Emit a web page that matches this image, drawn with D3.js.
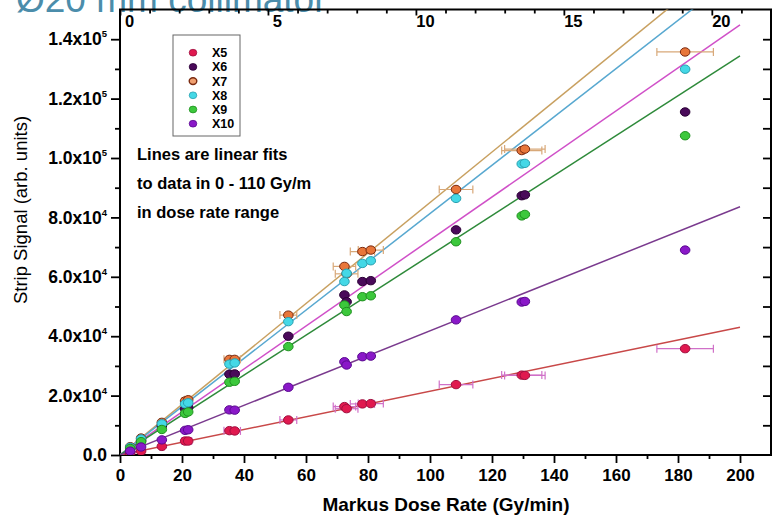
<!DOCTYPE html>
<html>
<head>
<meta charset="utf-8">
<script src="https://cdn.jsdelivr.net/npm/d3@7"></script>
<style>
  body { margin: 0; background: #fff; }
  svg text { font-family: "Liberation Sans", Arial, sans-serif; }
</style>
</head>
<body>
<div id="chart"></div>
<script>
// dose rates (Gy/min), shared by all strips
var doseRate = [3.3, 6.8, 13.5, 21, 22, 35.3, 37, 54.3, 72.4, 73.1, 78.2, 80.9, 108.4, 129.6, 130.6, 182.3];

var seriesNames = ["X5", "X6", "X7", "X8", "X9", "X10"];
var x5  = [700, 1300, 2900, 4700, 4700, 8200, 8100, 11800, 16300, 15600, 17200, 17300, 23700, 26900, 26800, 35800];
var x6  = [2400, 4800, 9800, 15500, 16000, 27200, 27300, 40000, 53900, 51600, 58400, 58700, 75800, 87300, 87600, 115500];
var x7  = [2800, 5700, 11000, 18200, 18600, 32200, 32200, 47100, 63500, 61000, 68500, 69000, 89400, 102500, 103000, 135700];
var x8  = [2600, 5400, 10500, 17200, 17600, 30600, 31000, 44900, 58400, 61200, 64500, 65400, 86400, 98000, 98200, 129900];
var x9  = [2200, 4500, 8600, 14000, 14500, 24500, 24800, 36500, 50500, 48300, 53300, 53600, 71800, 80500, 81000, 107500];
var x10 = [1300, 2700, 5100, 8300, 8500, 15200, 15100, 22800, 31400, 30300, 33100, 33300, 45500, 51500, 51700, 69000];

// slopes of the linear fits (signal per Gy/min), drawn from 0 to 200
var fitSlopes = [215, 724, 850, 813, 672, 418];
var fitRange = [0, 200];

var xTickValues = [0, 20, 40, 60, 80, 100, 120, 140, 160, 180, 200];
var topTickValues = [0, 5, 10, 15, 20];
var yTickValues = [0, 20000, 40000, 60000, 80000, 100000, 120000, 140000];
var yTickMantissa = ["0.0", "2.0", "4.0", "6.0", "8.0", "1.0", "1.2", "1.4"];
var yTickExp = ["", "4", "4", "4", "4", "5", "5", "5"];

var noteLines = ["Lines are linear fits", "to data in 0 - 110 Gy/m", "in dose rate range"];

var allValues = [x5, x6, x7, x8, x9, x10];
var fills   = ["#e0194f", "#4a0a5a", "#e8763a", "#44d8e6", "#3cc83c", "#8a18c8"];
var strokes = ["#a01040", "#2a0035", "#7a2a10", "#2aa0b0", "#209020", "#5a0a90"];
var lineColors = ["#c84848", "#d050c8", "#c8a060", "#58a8d0", "#2e8a3a", "#7a3a8e"];
var errColors = {"X5": "#d070c8", "X7": "#d8a878"};

var width = 772, height = 519;

var svg = d3.select("#chart").append("svg")
  .attr("width", width)
  .attr("height", height);

var x = d3.scaleLinear().domain([0, 210]).range([120, 771]);
var xTop = d3.scaleLinear().domain([0, 22]).range([120, 771]);
var y = d3.scaleLinear().domain([0, 150000]).range([455, 9.5]);

svg.append("defs").append("clipPath").attr("id", "plotClip")
  .append("rect")
  .attr("x", 120).attr("y", 9.5)
  .attr("width", 651).attr("height", 445.5);

// title, cut by the top of the picture
svg.append("text")
  .attr("x", 16).attr("y", 12)
  .style("font-size", "37px")
  .style("fill", "#4b8dab")
  .text("Ø20 mm collimator");

// bottom axis
var gx = svg.append("g").attr("transform", "translate(0,455)")
  .call(d3.axisBottom(x).tickValues(xTickValues).tickSize(8).tickPadding(6).tickFormat(d3.format("d")));
svg.append("g").attr("transform", "translate(0,455)")
  .call(d3.axisBottom(x).tickValues(d3.range(10, 210, 20)).tickSize(4).tickFormat(""));

// top axis, ticks pointing in
var gt = svg.append("g").attr("transform", "translate(0,9.5)")
  .call(d3.axisBottom(xTop).tickValues(topTickValues).tickSize(6).tickPadding(4));
svg.append("g").attr("transform", "translate(0,9.5)")
  .call(d3.axisBottom(xTop).tickValues(d3.range(1, 23).filter(function(d) { return d % 5 != 0; })).tickSize(4).tickFormat(""));

// left axis
var gy = svg.append("g").attr("transform", "translate(120,0)")
  .call(d3.axisLeft(y).tickValues(yTickValues).tickSize(9).tickPadding(4).tickFormat(""));
svg.append("g").attr("transform", "translate(120,0)")
  .call(d3.axisLeft(y).tickValues(d3.range(10000, 150000, 20000)).tickSize(5).tickFormat(""));
gy.selectAll(".tick text").each(function(d, i) {
  var t = d3.select(this);
  t.text(yTickMantissa[i] + (yTickExp[i] ? "x10" : ""));
  if (yTickExp[i]) {
    t.append("tspan").attr("dy", -8).style("font-size", "9.5px").text(yTickExp[i]);
  }
});

// right axis, ticks pointing in
svg.append("g").attr("transform", "translate(771,0)")
  .call(d3.axisLeft(y).tickValues(d3.range(10000, 150000, 10000)).tickSize(8).tickFormat(""));

svg.selectAll(".domain").remove();
svg.selectAll(".tick line").attr("stroke", "#000").attr("stroke-width", 1.8);
svg.selectAll(".tick text")
  .style("font-size", "17px")
  .style("font-weight", "bold")
  .style("fill", "#000")
  .style("font-family", "'Liberation Sans', Arial, sans-serif");
gy.selectAll(".tick text").style("font-size", "17.5px");
gt.selectAll(".tick text").attr("x", 9).attr("y", 6).style("font-size", "16.5px");

// frame
svg.append("rect")
  .attr("x", 120).attr("y", 9.5)
  .attr("width", 651).attr("height", 445.5)
  .attr("fill", "none")
  .attr("stroke", "#000")
  .attr("stroke-width", 2);

var plot = svg.append("g").attr("clip-path", "url(#plotClip)");

// fit lines
seriesNames.forEach(function(name, i) {
  plot.append("line")
    .attr("x1", x(fitRange[0])).attr("y1", y(fitSlopes[i] * fitRange[0]))
    .attr("x2", x(fitRange[1])).attr("y2", y(fitSlopes[i] * fitRange[1]))
    .attr("stroke", lineColors[i])
    .attr("stroke-width", 1.5);
});

// horizontal error bars (5% of dose rate) for X5 and X7
seriesNames.forEach(function(name, i) {
  if (!errColors[name]) return;
  var vals = allValues[i];
  var eg = plot.append("g").attr("stroke", errColors[name]).attr("stroke-width", 1.2).attr("fill", "none");
  doseRate.forEach(function(d, j) {
    var lo = x(d * 0.95), hi = x(d * 1.05), yy = y(vals[j]);
    eg.append("line").attr("x1", lo).attr("x2", hi).attr("y1", yy).attr("y2", yy);
    eg.append("line").attr("x1", lo).attr("x2", lo).attr("y1", yy - 4).attr("y2", yy + 4);
    eg.append("line").attr("x1", hi).attr("x2", hi).attr("y1", yy - 4).attr("y2", yy + 4);
  });
});

// data points
seriesNames.forEach(function(name, i) {
  plot.append("g").selectAll("ellipse")
    .data(allValues[i])
    .enter().append("ellipse")
    .attr("cx", function(d, j) { return x(doseRate[j]); })
    .attr("cy", function(d) { return y(d); })
    .attr("rx", 4.8).attr("ry", 4.2)
    .attr("fill", fills[i])
    .attr("stroke", strokes[i])
    .attr("stroke-width", 1);
});

// legend
var legend = svg.append("g");
legend.append("rect")
  .attr("x", 173).attr("y", 35)
  .attr("width", 67).attr("height", 101)
  .attr("fill", "#fff")
  .attr("stroke", "#666")
  .attr("stroke-width", 1);
seriesNames.forEach(function(name, i) {
  var ly = 52.7 + i * 14.2;
  legend.append("ellipse")
    .attr("cx", 193).attr("cy", ly)
    .attr("rx", 3.8).attr("ry", 3.4)
    .attr("fill", name == "X7" ? "#f0a070" : fills[i])
    .attr("stroke", strokes[i])
    .attr("stroke-width", name == "X7" ? 1.4 : 0.8);
  legend.append("text")
    .attr("x", 212).attr("y", ly)
    .attr("dy", "0.36em")
    .style("font-size", "12.5px")
    .style("font-weight", "bold")
    .text(name);
});

// note
svg.append("g").selectAll("text")
  .data(noteLines)
  .enter().append("text")
  .attr("x", 137)
  .attr("y", function(d, i) { return 160 + i * 29; })
  .style("font-size", "16.5px")
  .style("font-weight", "bold")
  .text(function(d) { return d; });

// axis titles
svg.append("text")
  .attr("x", 446).attr("y", 511)
  .attr("text-anchor", "middle")
  .style("font-size", "19px")
  .style("font-weight", "bold")
  .text("Markus Dose Rate (Gy/min)");

svg.append("text")
  .attr("transform", "translate(27,210) rotate(-90)")
  .attr("text-anchor", "middle")
  .style("font-size", "18.5px")
  .text("Strip Signal (arb. units)");
</script>
</body>
</html>
